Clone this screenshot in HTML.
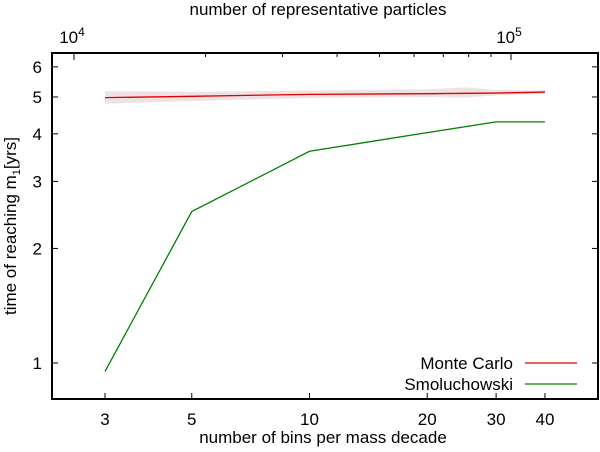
<!DOCTYPE html>
<html><head><meta charset="utf-8"><style>
body{margin:0;background:#fff}
svg text{font-family:"Liberation Sans",sans-serif;fill:#000}
</style></head><body>
<svg width="600" height="447" viewBox="0 0 600 447">
<g id="plot"></g>
</svg>
<script>
const xCats=[3,5,10,20,30,40];
const mcVals=[4.98,5.02,5.08,5.10,5.12,5.15];
const bandX=[3,5,10,20,25,30,40];
const bandLo=[4.80,4.88,4.97,5.00,4.98,5.05,5.10];
const bandHi=[5.18,5.16,5.20,5.24,5.30,5.22,5.20];
const smolVals=[0.95,2.5,3.6,4.03,4.3,4.3];
const yTicks=[1,2,3,4,5,6];
const xTicks=[3,5,10,20,30,40];
const topTicks=[10000,20000,30000,40000,50000,60000,70000,80000,90000,100000];

const L=52,R=598,T=53,B=399;
const X=v=>105+391.1*Math.log10(v/3);
const Y=v=>363-380.6*Math.log10(v);
const XT=v=>74+437*Math.log10(v/1e4);
const NS="http://www.w3.org/2000/svg";
const g=document.getElementById('plot');
function mk(t,a,txt){const e=document.createElementNS(NS,t);for(const k in a)e.setAttribute(k,a[k]);if(txt!==undefined)e.textContent=txt;g.appendChild(e);return e;}

let pts=bandX.map((x,i)=>X(x)+','+Y(bandHi[i]));
pts=pts.concat(bandX.map((x,i)=>X(x)+','+Y(bandLo[i])).reverse());
let e=mk('polygon',{points:pts.join(' '),fill:'#efe2e2'});



e=mk('polyline',{points:xCats.map((x,i)=>X(x)+','+Y(mcVals[i])).join(' '),fill:'none',stroke:'#e00000','stroke-width':1.3});


e=mk('polyline',{points:xCats.map((x,i)=>X(x)+','+Y(smolVals[i])).join(' '),fill:'none',stroke:'#008000','stroke-width':1.3});



e=mk('rect',{x:L,y:T,width:R-L,height:B-T,fill:'none',stroke:'#000','stroke-width':2});



yTicks.forEach(v=>{
 const y=Y(v);
 mk('line',{x1:L,x2:L+6,y1:y,y2:y,stroke:'#000','stroke-width':1});
 mk('line',{x1:R-6,x2:R,y1:y,y2:y,stroke:'#000','stroke-width':1});
 e=mk('text',{x:L-10,y:y+6,'font-size':17,'text-anchor':'end'},v);
 
 
});
xTicks.forEach(v=>{
 const x=X(v);
 mk('line',{x1:x,x2:x,y1:B,y2:B-6,stroke:'#000','stroke-width':1});
 e=mk('text',{x:x,y:425,'font-size':17,'text-anchor':'middle'},v);
 
 
});
topTicks.forEach(v=>{
 const x=XT(v);
 const major=(v===10000||v===100000);
 mk('line',{x1:x,x2:x,y1:T,y2:T+(major?7:4),stroke:'#000','stroke-width':1});
});
[[10000,'4'],[100000,'5']].forEach(([v,p])=>{
 e=mk('text',{x:XT(v)-2,y:43,'font-size':17,'text-anchor':'middle'});
 e.innerHTML='10<tspan dy="-7" font-size="12">'+p+'</tspan>';
 
 
});

e=mk('text',{x:318,y:15,'font-size':17,'text-anchor':'middle'},'number of representative particles');


e=mk('text',{x:323,y:443,'font-size':17,'text-anchor':'middle'},'number of bins per mass decade');


e=mk('text',{x:0,y:0,'font-size':17,'text-anchor':'middle',transform:'translate(16,226) rotate(-90)'});
e.innerHTML='time of reaching m<tspan dy="4" font-size="11">1</tspan><tspan dy="-4">[yrs]</tspan>';



e=mk('text',{x:513,y:369,'font-size':17,'text-anchor':'end'},'Monte Carlo');


mk('line',{x1:525,x2:577,y1:363,y2:363,stroke:'#e00000','stroke-width':1.3});
e=mk('text',{x:513,y:390,'font-size':17,'text-anchor':'end'},'Smoluchowski');


mk('line',{x1:525,x2:577,y1:384,y2:384,stroke:'#008000','stroke-width':1.3});
</script>
</body></html>
